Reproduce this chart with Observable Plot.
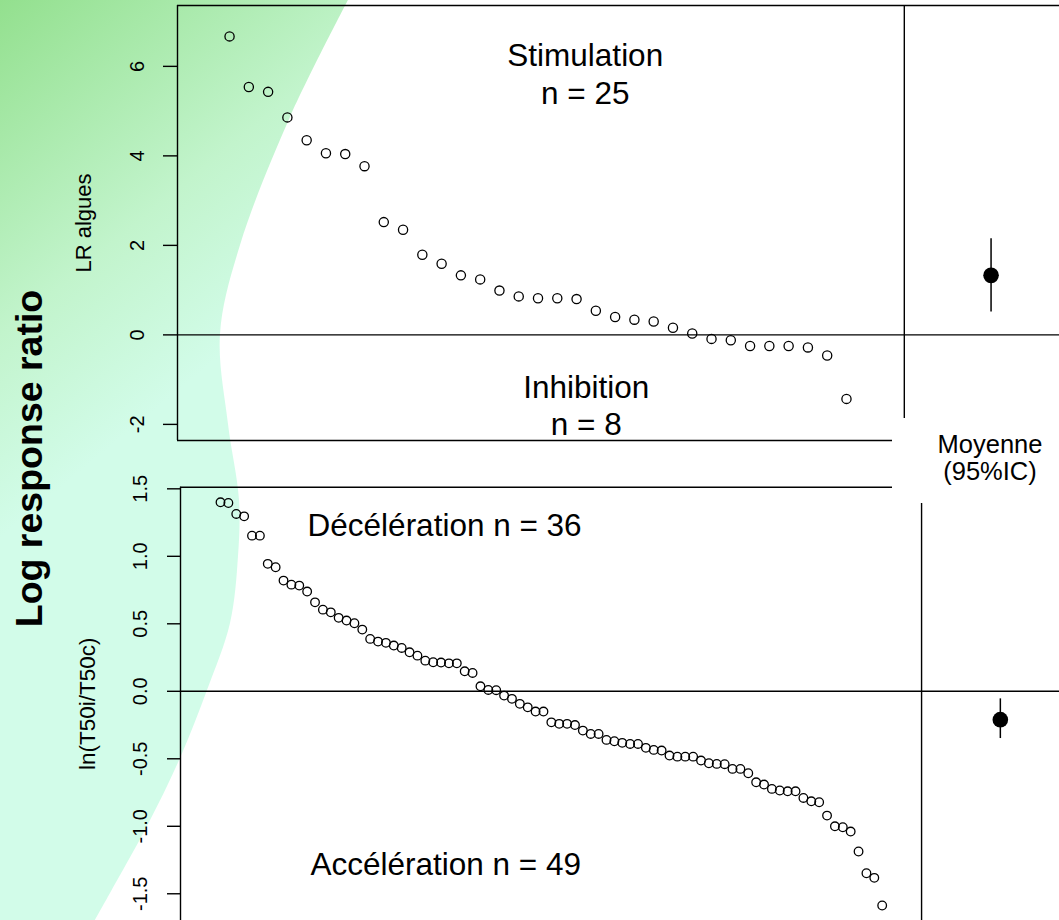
<!DOCTYPE html>
<html><head><meta charset="utf-8">
<script src="https://cdn.jsdelivr.net/npm/d3@7"></script>
<script src="https://cdn.jsdelivr.net/npm/@observablehq/plot@0.6"></script>
<style>
html,body{margin:0;padding:0;background:#fff;}
#page{position:relative;width:1059px;height:920px;overflow:hidden;background:#fff;font-family:"Liberation Sans",Arial,sans-serif;}
#page > svg, #page > div{position:absolute;left:0;}
</style></head><body><div id="page"></div>
<script>
// ---- data ----
const topValues = [6.67, 5.54, 5.43, 4.86, 4.35, 4.06, 4.04, 3.77, 2.52, 2.35, 1.79, 1.59, 1.33, 1.24, 0.99, 0.86, 0.82, 0.82, 0.80, 0.54, 0.40, 0.34, 0.30, 0.16, 0.03, -0.09, -0.12, -0.25, -0.25, -0.25, -0.28, -0.46, -1.43];
const bottomValues = [1.40, 1.395, 1.314, 1.296, 1.153, 1.153, 0.944, 0.919, 0.82, 0.79, 0.783, 0.739, 0.659, 0.605, 0.585, 0.544, 0.524, 0.504, 0.457, 0.388, 0.368, 0.359, 0.339, 0.321, 0.289, 0.264, 0.227, 0.215, 0.213, 0.207, 0.207, 0.148, 0.136, 0.037, 0.01, 0.008, -0.032, -0.056, -0.093, -0.119, -0.15, -0.15, -0.23, -0.241, -0.241, -0.25, -0.291, -0.316, -0.316, -0.36, -0.37, -0.382, -0.39, -0.39, -0.419, -0.434, -0.439, -0.476, -0.484, -0.484, -0.484, -0.513, -0.533, -0.538, -0.54, -0.575, -0.575, -0.607, -0.674, -0.691, -0.723, -0.735, -0.741, -0.741, -0.79, -0.815, -0.822, -0.921, -1.0, -1.007, -1.039, -1.187, -1.348, -1.382, -1.587];
const topMean = [{mean: 1.33, lo: 0.51, hi: 2.15}];
const bottomMean = [{mean: -0.21, lo: -0.35, hi: -0.056}];
const topTicks = [6, 4, 2, 0, -2];
const topTickLabels = ["6", "4", "2", "0", "-2"];
const bottomTicks = [1.5, 1.0, 0.5, 0.0, -0.5, -1.0, -1.5];
const bottomTickLabels = ["1.5", "1.0", "0.5", "0.0", "-0.5", "-1.0", "-1.5"];
const topLabels = ["Stimulation", "n = 25", "Inhibition", "n = 8"];
const bottomLabels = ["Décélération n = 36", "Accélération n = 49"];

const FONT = "Liberation Sans, Arial, sans-serif";
const page = document.getElementById("page");
const topData = topValues.map((v, i) => ({i: i + 1, v}));
const bottomData = bottomValues.map((v, i) => ({i: i + 1, v}));

// ---- background (decorative) ----
const bg = d3.create("svg").attr("width", 1059).attr("height", 920).style("top", "0px");
const grad = bg.append("defs").append("linearGradient").attr("id", "g")
  .attr("gradientUnits", "userSpaceOnUse").attr("x1", 0).attr("y1", 0).attr("x2", 330).attr("y2", 400);
grad.append("stop").attr("offset", 0).attr("stop-color", "#93e08e");
grad.append("stop").attr("offset", 0.5).attr("stop-color", "#c2f4cc");
grad.append("stop").attr("offset", 0.8).attr("stop-color", "#d2fce9");
const edge = [[349,-2],[290,117],[240,245],[220,334],[228,424],[239,500],[238,556],[230,623],[207,690],[180,758],[147,826],[110,893],[92,925]];
const edgePath = d3.line().curve(d3.curveCatmullRom.alpha(0.5))(edge);
bg.append("path").attr("d", "M0,-2" + edgePath.replace(/^M/, "L") + "L0,925Z").attr("fill", "url(#g)");
bg.append("text").attr("transform", "translate(42,458.5) rotate(-90)")
  .attr("text-anchor", "middle").attr("font-family", FONT).attr("font-weight", "bold")
  .attr("font-size", 37.5).attr("fill", "black").text("Log response ratio");
page.appendChild(bg.node());

// ---- top panel ----
const TX = [-1.70, 44.05], TY = [-2.36, 7.36], TSEP = 36, TMEANX = 40.5;
const topPlot = Plot.plot({
  width: 1059, height: 445,
  marginLeft: 177, marginRight: 0, marginTop: 5, marginBottom: 5,
  x: {domain: TX, axis: null},
  y: {domain: TY},
  style: {background: "none", fontFamily: FONT, overflow: "visible", color: "black"},
  marks: [
    Plot.ruleY([TY[0], TY[1], 0], {stroke: "black", strokeWidth: 1.4}),
    Plot.ruleX([TX[0], TSEP], {stroke: "black", strokeWidth: 1.4}),
    Plot.axisY(topTicks, {tickSize: 14, tickFormat: () => "", label: null, stroke: "black", strokeWidth: 1.4}),
    Plot.text(topTicks, {y: d => d, text: (d, i) => topTickLabels[i], frameAnchor: "left", textAnchor: "middle", lineAnchor: "middle", dx: -39.5, rotate: -90, fontSize: 20, fill: "black"}),
    Plot.text(["LR algues"], {frameAnchor: "left", textAnchor: "middle", lineAnchor: "middle", dx: -93.3, rotate: -90, fontSize: 22, fill: "black"}),
    Plot.dot(topData, {x: "i", y: "v", r: 4.6, stroke: "black", fill: "none", strokeWidth: 1.3}),
    Plot.ruleX(topMean, {x: TMEANX, y1: "lo", y2: "hi", stroke: "black", strokeWidth: 1.5}),
    Plot.dot(topMean, {x: TMEANX, y: "mean", r: 7.8, fill: "black", stroke: "none"}),
    Plot.text([topLabels[0]], {x: 19.45, y: 6.0, lineAnchor: "bottom", fontSize: 31.5, fill: "black"}),
    Plot.text([topLabels[1]], {x: 19.45, y: 5.15, lineAnchor: "bottom", fontSize: 31.5, fill: "black"}),
    Plot.text([topLabels[2]], {x: 19.5, y: -1.40, lineAnchor: "bottom", fontSize: 31.5, fill: "black"}),
    Plot.text([topLabels[3]], {x: 19.5, y: -2.245, lineAnchor: "bottom", fontSize: 31.5, fill: "black"})
  ]
});
topPlot.style.top = "0px";
page.appendChild(topPlot);

// ---- bottom panel ----
const BX = [-4.078, 107.51], BY = [-1.698, 1.512], BSEP = 90, BMEANX = 100;
const bottomPlot = Plot.plot({
  width: 1059, height: 480,
  marginLeft: 180, marginRight: 0, marginTop: 46.7, marginBottom: 0,
  x: {domain: BX, axis: null},
  y: {domain: BY},
  style: {background: "none", fontFamily: FONT, overflow: "visible", color: "black"},
  marks: [
    Plot.ruleY([BY[1], 0], {stroke: "black", strokeWidth: 1.4}),
    Plot.ruleX([BX[0], BSEP], {stroke: "black", strokeWidth: 1.4}),
    Plot.axisY(bottomTicks, {tickSize: 13, tickFormat: () => "", label: null, stroke: "black", strokeWidth: 1.4}),
    Plot.text(bottomTicks, {y: d => d, text: (d, i) => bottomTickLabels[i], frameAnchor: "left", textAnchor: "middle", lineAnchor: "middle", dx: -40, rotate: -90, fontSize: 20, fill: "black"}),
    Plot.text(["ln(T50i/T50c)"], {frameAnchor: "left", textAnchor: "middle", lineAnchor: "middle", dx: -92.6, rotate: -90, fontSize: 22.5, fill: "black"}),
    Plot.dot(bottomData, {x: "i", y: "v", r: 4.3, stroke: "black", fill: "none", strokeWidth: 1.3}),
    Plot.ruleX(bottomMean, {x: BMEANX, y1: "lo", y2: "hi", stroke: "black", strokeWidth: 1.5}),
    Plot.dot(bottomMean, {x: BMEANX, y: "mean", r: 7.8, fill: "black", stroke: "none"}),
    Plot.text([bottomLabels[0]], {x: 29.45, y: 1.154, lineAnchor: "bottom", fontSize: 31.5, fill: "black"}),
    Plot.text([bottomLabels[1]], {x: 29.6, y: -1.364, lineAnchor: "bottom", fontSize: 31.5, fill: "black"})
  ]
});
bottomPlot.style.top = "440px";
page.appendChild(bottomPlot);

// ---- "Moyenne (95%IC)" box ----
const ov = d3.create("svg").attr("width", 1059).attr("height", 920).style("top", "0px").style("pointer-events", "none");
ov.append("rect").attr("x", 892).attr("y", 418).attr("width", 167).attr("height", 85).attr("fill", "white");
ov.append("text").attr("x", 990).attr("y", 453).attr("text-anchor", "middle").attr("font-family", FONT)
  .attr("font-size", 25.5).attr("fill", "black").text("Moyenne");
ov.append("text").attr("x", 990).attr("y", 480).attr("text-anchor", "middle").attr("font-family", FONT)
  .attr("font-size", 25.5).attr("fill", "black").text("(95%IC)");
page.appendChild(ov.node());
</script></body></html>
